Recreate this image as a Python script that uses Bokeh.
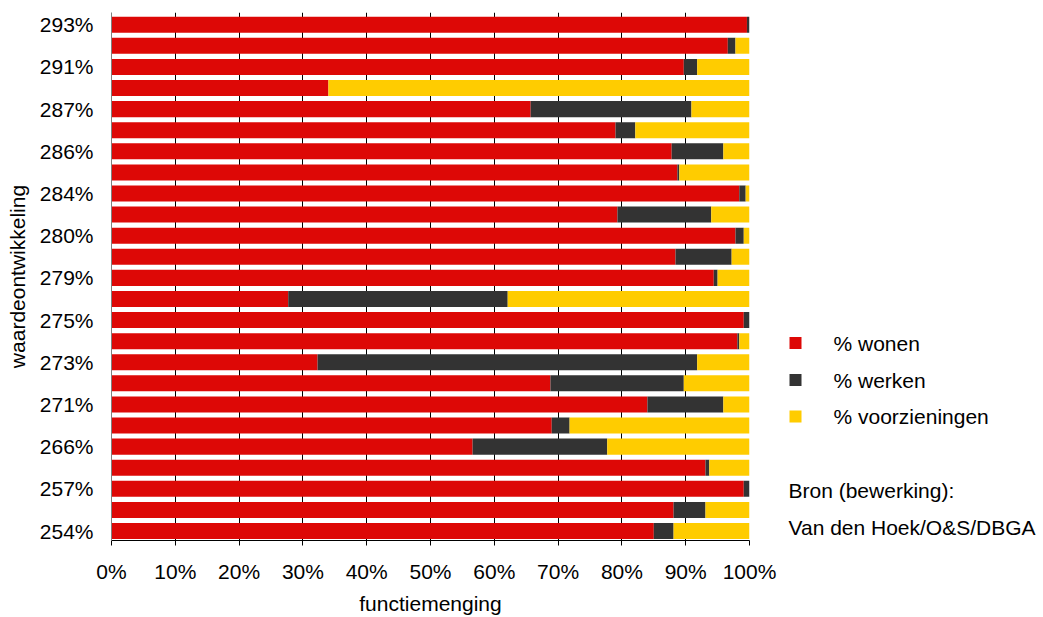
from bokeh.plotting import figure
from bokeh.layouts import row
from bokeh.models import ColumnDataSource, Range1d, FixedTicker
from bokeh.core.properties import value
from bokeh.embed import file_html
from bokeh.resources import INLINE

# --- data (top bar first) ---
bar_labels = ["293%", "", "291%", "", "287%", "", "286%", "", "284%", "", "280%", "",
              "279%", "", "275%", "", "273%", "", "271%", "", "266%", "", "257%", "", "254%"]
wonen = [99.6, 96.6, 89.7, 34.0, 65.7, 79.0, 87.8, 88.7, 98.4, 79.3, 97.8, 88.4, 94.4,
         27.7, 99.1, 98.1, 32.3, 68.8, 84.0, 69.0, 56.6, 93.1, 99.1, 88.1, 85.0]
werken = [0.4, 1.2, 2.1, 0.0, 25.2, 3.1, 8.1, 0.3, 1.0, 14.7, 1.3, 8.8, 0.6,
          34.4, 0.9, 0.3, 59.5, 20.9, 11.9, 2.8, 21.1, 0.6, 0.9, 5.0, 3.1]
voorzieningen = [0.0, 2.2, 8.2, 66.0, 9.1, 17.9, 4.1, 11.0, 0.6, 6.0, 0.9, 2.8, 5.0,
                 37.9, 0.0, 1.6, 8.2, 10.3, 4.1, 28.2, 22.3, 6.3, 0.0, 6.9, 11.9]
series_names = ["% wonen", "% werken", "% voorzieningen"]
colors = ["#DD0806", "#333333", "#FFCC00"]
x_ticks = [0, 10, 20, 30, 40, 50, 60, 70, 80, 90, 100]
x_tick_labels = ["0%", "10%", "20%", "30%", "40%", "50%", "60%", "70%", "80%", "90%", "100%"]
source_lines = ["Bron (bewerking):", "Van den Hoek/O&S/DBGA"]

FONT = "Liberation Sans"
FS = "21px"
BLACK = "#000000"

n = len(bar_labels)
ypos = [n - 1 - i for i in range(n)]
src = ColumnDataSource(dict(y=ypos, wonen=wonen, werken=werken, voorzieningen=voorzieningen))

W_MAIN = 779
p = figure(width=W_MAIN, height=617, output_backend="svg", toolbar_location=None,
           x_range=Range1d(0, 100), y_range=Range1d(-0.45, n - 1 + 0.58),
           min_border_left=111, min_border_right=30, min_border_top=12, min_border_bottom=77)
p.outline_line_color = None

p.hbar_stack(["wonen", "werken", "voorzieningen"], y="y", height=0.76, source=src,
             color=colors, line_color=None)

# x axis
p.xaxis.ticker = FixedTicker(ticks=x_ticks)
p.xaxis.major_label_overrides = {t: l for t, l in zip(x_ticks, x_tick_labels)}
p.xaxis.axis_label = "functiemenging"
p.xaxis.axis_label_text_font = FONT
p.xaxis.axis_label_text_font_size = FS
p.xaxis.axis_label_text_font_style = "normal"
p.xaxis.axis_label_text_color = BLACK
p.xaxis.axis_label_standoff = 6
p.xaxis.major_label_text_font = FONT
p.xaxis.major_label_text_font_size = FS
p.xaxis.major_label_text_color = BLACK
p.xaxis.major_label_standoff = 14
p.xaxis.major_tick_out = 5
p.xaxis.major_tick_in = 0
p.xaxis.minor_tick_line_color = None
p.xaxis.axis_line_color = BLACK
p.xaxis.major_tick_line_color = BLACK

# y axis
p.yaxis.ticker = FixedTicker(ticks=[ypos[i] for i in range(n) if bar_labels[i]])
p.yaxis.major_label_overrides = {ypos[i]: bar_labels[i] for i in range(n) if bar_labels[i]}
p.yaxis.major_label_text_font = FONT
p.yaxis.major_label_text_font_size = FS
p.yaxis.major_label_text_color = BLACK
p.yaxis.major_label_standoff = 18
p.yaxis.major_tick_out = 0
p.yaxis.major_tick_in = 0
p.yaxis.minor_tick_line_color = None
p.yaxis.axis_line_color = "#808080"
p.yaxis.axis_label = "waardeontwikkeling"
p.yaxis.axis_label_text_font = FONT
p.yaxis.axis_label_text_font_size = FS
p.yaxis.axis_label_text_font_style = "normal"
p.yaxis.axis_label_text_color = BLACK
p.yaxis.axis_label_standoff = 8

# grid
p.xgrid.ticker = FixedTicker(ticks=x_ticks)
p.xgrid.grid_line_color = BLACK
p.ygrid.grid_line_color = None

# --- right panel: legend + source (page pixel coordinates; frame aligned 12..540) ---
W_SIDE = 1043 - W_MAIN
p2 = figure(width=W_SIDE, height=617, output_backend="svg", toolbar_location=None,
            x_range=Range1d(W_MAIN, 1043), y_range=Range1d(540, 12),
            x_axis_location=None, y_axis_location=None,
            min_border=0, min_border_left=0, min_border_right=0,
            min_border_top=12, min_border_bottom=77)
p2.outline_line_color = None
p2.grid.grid_line_color = None

leg_y = [342.5, 379.5, 416.0]
leg = ColumnDataSource(dict(x=[795] * 3, y=leg_y, tx=[833] * 3, name=series_names, c=colors))
p2.rect(x="x", y="y", width=12, height=12, source=leg, fill_color="c", line_color=None)
p2.text(x="tx", y="y", text="name", source=leg, text_font=value(FONT), text_font_size=FS,
        text_color=BLACK, text_baseline="middle", text_align="left")

srcs = ColumnDataSource(dict(x=[788] * 2, y=[490, 527], t=source_lines))
p2.text(x="x", y="y", text="t", source=srcs, text_font=value(FONT), text_font_size=FS,
        text_color=BLACK, text_baseline="middle", text_align="left")

layout = row(p, p2, spacing=0)
open("out.html", "w").write(file_html(layout, INLINE))
